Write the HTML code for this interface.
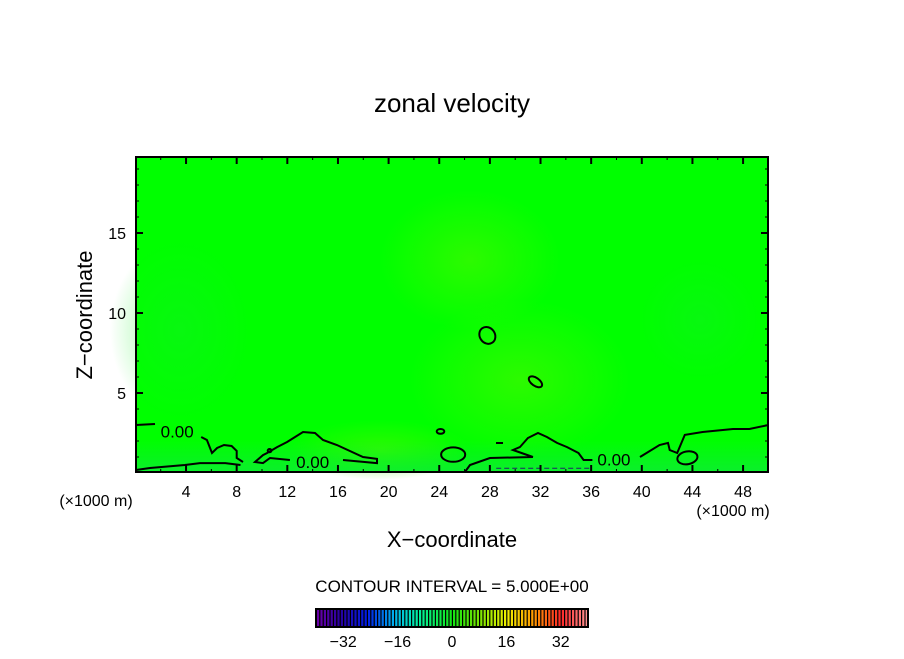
<!DOCTYPE html>
<html><head><meta charset="utf-8"><style>
body{margin:0;background:#fff;}
svg text{font-family:"Liberation Sans",sans-serif;fill:#000;}
</style></head><body>
<svg id="c" width="904" height="654" xmlns="http://www.w3.org/2000/svg">
<defs>
<radialGradient id="g1" cx="0.5" cy="0.5" r="0.5"><stop offset="0" stop-color="#40f800" stop-opacity="0.7"/><stop offset="1" stop-color="#40f800" stop-opacity="0"/></radialGradient>
<radialGradient id="g2" cx="0.5" cy="0.5" r="0.5"><stop offset="0" stop-color="#10f020" stop-opacity="0.5"/><stop offset="1" stop-color="#10f020" stop-opacity="0"/></radialGradient>
<linearGradient id="gb" x1="0" y1="0" x2="0" y2="1"><stop offset="0" stop-color="#10e840" stop-opacity="0"/><stop offset="1" stop-color="#10e840" stop-opacity="0.7"/></linearGradient>
</defs>
<text x="452" y="112" font-size="26" text-anchor="middle">zonal velocity</text>
<g id="plot"></g>
<text x="96" y="506" font-size="16" text-anchor="middle">(×1000 m)</text>
<text x="733" y="516" font-size="16" text-anchor="middle">(×1000 m)</text>
<text x="452" y="547" font-size="22" text-anchor="middle">X−coordinate</text>
<text transform="translate(92,315) rotate(-90)" font-size="22" text-anchor="middle">Z−coordinate</text>
<text x="452" y="592" font-size="17" text-anchor="middle">CONTOUR INTERVAL = 5.000E+00</text>
<g id="cbar"></g>
</svg>
<script>
const xTicks=[4,8,12,16,20,24,28,32,36,40,44,48];
const yTicks=[5,10,15];
const cbTicks=[-32,-16,0,16,32];
const contourLeftUpper=[[0.05,3.0],[1.55,3.06]];
const contourLeftLower=[[5.2,2.25],[5.65,2.06],[6.05,1.25],[6.45,1.56],[7.0,1.75],[7.6,1.69],[8.0,1.38],[8.0,0.94],[8.5,0.69]];
const contourBottomLeft=[[0.05,0.19],[1.15,0.31],[3.9,0.5],[5.1,0.62],[7.1,0.62],[8.3,0.5]];
const contourMidA=[[16.4,0.81],[19.08,0.62],[19.08,0.88],[17.98,1.0],[15.92,1.75],[14.82,2.06],[14.19,2.5],[13.24,2.56],[11.98,1.94],[11.19,1.62],[10.4,1.25],[10.08,1.12],[9.45,0.69],[10.08,0.62],[10.63,0.94],[12.2,0.81]];
const contourRightA=[[26.03,0.06],[26.43,0.5],[28.0,0.94],[31.4,1.0],[29.83,1.44],[30.37,1.62],[31.0,2.19],[31.8,2.5],[32.5,2.25],[33.3,1.88],[34.1,1.62],[35.0,1.25],[35.4,0.81],[36.1,0.81]];
const contourRightB=[[39.86,1.0],[41.4,1.75],[42.07,1.88],[42.2,1.44],[42.8,1.25],[43.4,2.38],[44.8,2.56],[47.2,2.75],[48.5,2.75],[50,3.0]];
const blobs=[[27.8,8.6,0.6,0.55,-35],[31.6,5.7,0.6,0.25,35],[25.1,1.15,0.95,0.45,0],[24.1,2.6,0.3,0.15,0],[43.6,0.95,0.8,0.4,-10],[10.6,1.4,0.15,0.1,0]];
const dashLine=[[28.5,0.3],[35.9,0.3]];
const labels=[[3.3,2.6],[14.0,0.7],[37.8,0.85]];
const NS="http://www.w3.org/2000/svg";
const X0=135.4,XS=12.66,Y0=473,YS=16;
const sx=v=>X0+v*XS, sy=v=>Y0-v*YS;
const L=136,R=768,T=157,B=472;
const plot=document.getElementById('plot');
function mk(tag,attrs,parent){const e=document.createElementNS(NS,tag);for(const k in attrs)e.setAttribute(k,attrs[k]);(parent||plot).appendChild(e);return e;}
let e;
e=mk('rect',{x:L,y:T,width:R-L,height:B-T,fill:'#00ff00'});


mk('ellipse',{cx:520,cy:380,rx:110,ry:80,fill:'url(#g1)'});
mk('ellipse',{cx:470,cy:260,rx:90,ry:70,fill:'url(#g1)'});
mk('ellipse',{cx:380,cy:450,rx:90,ry:30,fill:'url(#g1)'});
mk('ellipse',{cx:180,cy:330,rx:70,ry:90,fill:'url(#g2)'});
mk('ellipse',{cx:700,cy:320,rx:60,ry:60,fill:'url(#g2)'});
mk('rect',{x:L,y:440,width:R-L,height:32,fill:'url(#gb)'});
function pathOf(arr){return arr.map((p,i)=>(i?'L':'M')+sx(p[0]).toFixed(1)+' '+sy(p[1]).toFixed(1)).join(' ');}
[[contourLeftUpper,'contour-left-upper'],[contourLeftLower,'contour-left-lower'],[contourBottomLeft,'contour-bottom-left'],[contourMidA,'contour-middle'],[contourRightA,'contour-right-a'],[contourRightB,'contour-right-b']].forEach(([a,n])=>{
 const p=mk('path',{d:pathOf(a),fill:'none',stroke:'#000','stroke-width':2});
 
 
});
blobs.forEach(b=>{
 const p=mk('ellipse',{cx:sx(b[0]),cy:sy(b[1]),rx:b[2]*XS,ry:b[3]*YS,fill:'none',stroke:'#000','stroke-width':2,transform:`rotate(${b[4]} ${sx(b[0])} ${sy(b[1])})`});
 
 
});
e=mk('line',{x1:sx(dashLine[0][0]),y1:sy(dashLine[0][1]),x2:sx(dashLine[1][0]),y2:sy(dashLine[1][1]),stroke:'#226','stroke-width':1,'stroke-dasharray':'5,3'});


e=mk('line',{x1:496,y1:443,x2:503,y2:443,stroke:'#000','stroke-width':2});
labels.forEach(l=>{
 const t=mk('text',{x:sx(l[0]),y:sy(l[1])+6,'font-size':17,'text-anchor':'middle'});
 t.textContent='0.00';
 
 
});
e=mk('rect',{x:L,y:T,width:R-L,height:B-T,fill:'none',stroke:'#000','stroke-width':2});


for(let v=2;v<50;v+=2){const maj=v%4===0;const len=maj?7:3;const w=maj?2:1;
 mk('line',{x1:sx(v),x2:sx(v),y1:B,y2:B-len,stroke:'#000','stroke-width':w});
 mk('line',{x1:sx(v),x2:sx(v),y1:T,y2:T+len,stroke:'#000','stroke-width':w});}
for(let v=1;v<20;v++){const maj=v%5===0;const len=maj?7:3;const w=maj?2:1;
 mk('line',{x1:L,x2:L+len,y1:sy(v),y2:sy(v),stroke:'#000','stroke-width':w});
 mk('line',{x1:R,x2:R-len,y1:sy(v),y2:sy(v),stroke:'#000','stroke-width':w});}
xTicks.forEach(v=>{const t=mk('text',{x:sx(v),y:497,'font-size':16,'text-anchor':'middle'});t.textContent=v;
 
 });
yTicks.forEach(v=>{const t=mk('text',{x:126,y:sy(v)+6,'font-size':16,'text-anchor':'end'});t.textContent=v;
 
 });
const cb=document.getElementById('cbar');
const CL=316,CR=588,CT=609,CB=627,VMIN=-40,VMAX=40;
const cx=v=>CL+(v-VMIN)/(VMAX-VMIN)*(CR-CL);
const stops=[[-40,[110,0,170]],[-33,[40,0,160]],[-25,[0,30,230]],[-17,[0,180,240]],[-10,[0,240,160]],[0,[20,230,20]],[8,[120,230,0]],[16,[240,240,0]],[24,[255,150,0]],[32,[255,40,40]],[40,[255,150,150]]];
function col(v){for(let i=1;i<stops.length;i++){if(v<=stops[i][0]){const a=stops[i-1],b=stops[i],t=(v-a[0])/(b[0]-a[0]);return 'rgb('+a[1].map((c,k)=>Math.round(c+(b[1][k]-c)*t)).join(',')+')';}}return 'rgb(255,150,150)';}
mk('rect',{x:CL,y:CT,width:CR-CL,height:CB-CT,fill:'#000'},cb);
for(let v=VMIN;v<VMAX;v++){mk('rect',{x:cx(v)+1,y:CT+1,width:(CR-CL)/80-1.2,height:CB-CT-2,fill:col(v+0.5)},cb);}
e=mk('rect',{x:CL,y:CT,width:CR-CL,height:CB-CT,fill:'none',stroke:'#000','stroke-width':2},cb);


cbTicks.forEach(v=>{const t=mk('text',{x:cx(v),y:647,'font-size':16,'text-anchor':'middle'},cb);t.textContent=(v<0?'−'+(-v):v);
 
 });
</script>
</body></html>
